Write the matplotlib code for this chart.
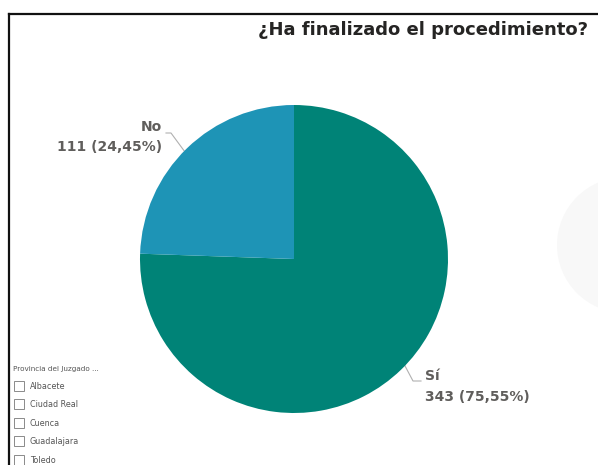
import matplotlib
matplotlib.use("Agg")
import matplotlib.pyplot as plt
from matplotlib.patches import Rectangle, Circle
from matplotlib.lines import Line2D

W, H = 598, 465
title = "¿Ha finalizado el procedimiento?"
categories = ["Sí", "No"]
counts = [343, 111]
percent_labels = ["75,55%", "24,45%"]
colors = ["#008377", "#1E94B6"]
slicer_title = "Provincia del Juzgado ..."
provinces = ["Albacete", "Ciudad Real", "Cuenca", "Guadalajara", "Toledo"]

fig = plt.figure(figsize=(W / 100, H / 100), dpi=100)
fig.patch.set_facecolor("white")

def fx(x):
    return x / W

def fy(y):
    return 1 - y / H

# background overlay axes in pixel coords
bg = fig.add_axes([0, 0, 1, 1])
bg.set_xlim(0, W)
bg.set_ylim(H, 0)
bg.axis("off")

# faint circle at right edge
bg.add_patch(Circle((625, 245), 68, facecolor="#F8F8F8", edgecolor="none", zorder=0))

# frame lines
bg.add_line(Line2D([9, 9], [14, H], color="#111111", lw=1.6))
bg.add_line(Line2D([9, W], [14, 14], color="#111111", lw=1.6))

# title
bg.text(588, 30, title, ha="right", va="center", fontsize=13,
        fontweight="bold", color="#252423", family="DejaVu Sans")

# pie
cx, cy, r = 294, 259, 154
pax = fig.add_axes([fx(cx - r), fy(cy + r), 2 * r / W, 2 * r / H])
pax.pie(counts, colors=colors, startangle=90, counterclock=False,
        radius=1, wedgeprops=dict(linewidth=0))
pax.set_xlim(-1, 1)
pax.set_ylim(-1, 1)
pax.axis("off")

lab_color = "#605E5C"
# No label
bg.text(162, 127, categories[1], ha="right", va="center", fontsize=10,
        fontweight="bold", color=lab_color)
bg.text(162, 147, f"{counts[1]} ({percent_labels[1]})", ha="right", va="center",
        fontsize=10, fontweight="bold", color=lab_color)
bg.add_line(Line2D([166, 171, 185], [133, 133, 152], color="#B0B0B0", lw=0.8))

# Sí label
bg.text(425, 376, categories[0], ha="left", va="center", fontsize=10,
        fontweight="bold", color=lab_color)
bg.text(425, 397, f"{counts[0]} ({percent_labels[0]})", ha="left", va="center",
        fontsize=10, fontweight="bold", color=lab_color)
bg.add_line(Line2D([404, 413, 421], [364, 381, 381], color="#B0B0B0", lw=0.8))

# slicer
bg.text(13, 369, slicer_title, ha="left", va="center", fontsize=5.2, color="#555555")
ys = [386, 404, 423, 441, 460]
for name, y in zip(provinces, ys):
    bg.add_patch(Rectangle((14, y - 5), 10, 10, facecolor="white",
                           edgecolor="#8A8A8A", lw=0.7))
    bg.text(30, y, name, ha="left", va="center", fontsize=5.8, color="#555555")

fig.savefig("out.png", dpi=100, facecolor="white")
